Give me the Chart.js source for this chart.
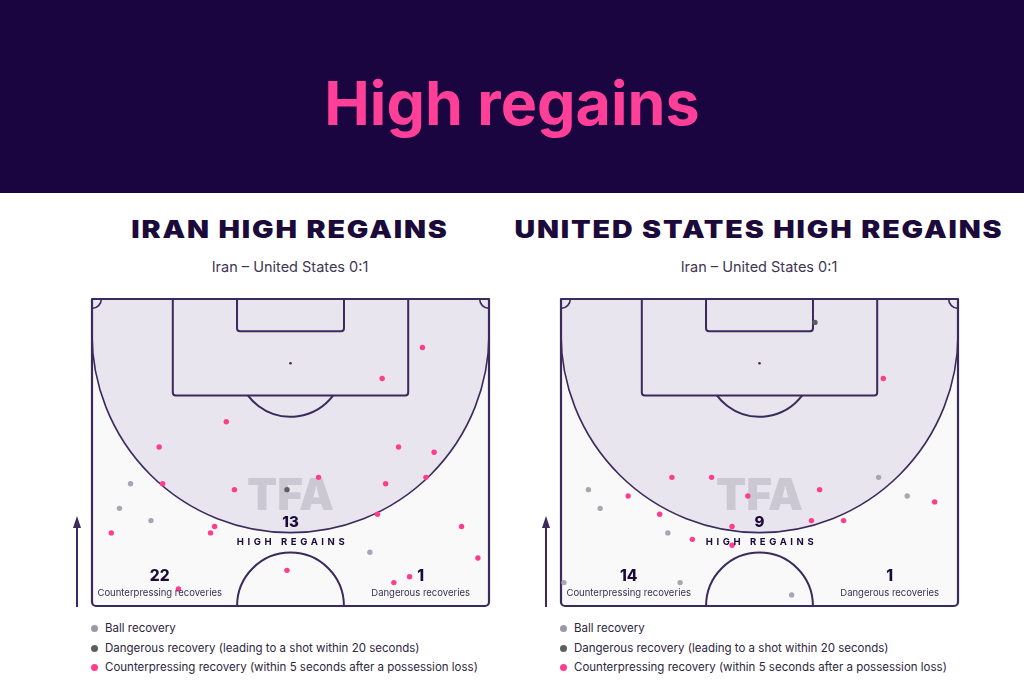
<!DOCTYPE html>
<html>
<head>
<meta charset="utf-8">
<script src="https://cdn.jsdelivr.net/npm/chart.js@4.4.1/dist/chart.umd.min.js"></script>
<style>
  body { margin: 0; width: 1024px; height: 683px; background: #ffffff; position: relative; overflow: hidden; font-family: Inter, "Noto Sans", sans-serif; }
  .header { position: absolute; left: 0; top: 0; width: 1024px; height: 193px; background: #1b0540; }
  .header h1 { margin: 0; position: absolute; left: 0; width: 1024px; top: 66px; text-align: center; color: #ff3f98; font-size: 61px; font-weight: 700; letter-spacing: 0px; }
  .team-title { position: absolute; top: 215px; text-align: center; color: #1b0a3a; font-size: 24px; font-weight: 900; letter-spacing: 1.6px; white-space: nowrap; transform: scaleX(1.19); }
  .match { position: absolute; top: 258px; text-align: center; color: #3e3552; font-size: 14.5px; white-space: nowrap; }
  .wrap { position: absolute; top: 290px; width: 440px; height: 325px; }
  .legend { position: absolute; top: 620px; font-size: 11.5px; color: #2e2640; }
  .legend div { height: 19.5px; line-height: 16px; white-space: nowrap; }
  .legend span { display: inline-block; width: 7px; height: 7px; border-radius: 50%; margin-right: 7px; vertical-align: 0px; }
</style>
</head>
<body>
<div class="header"><h1>High regains</h1></div>

<div class="team-title" style="left:90px;width:400px;">IRAN HIGH REGAINS</div>
<div class="match" style="left:90px;width:400px;">Iran – United States 0:1</div>
<div class="team-title" style="left:509px;width:500px;">UNITED STATES HIGH REGAINS</div>
<div class="match" style="left:559px;width:400px;">Iran – United States 0:1</div>

<div class="wrap" style="left:60px;"><canvas id="iranChart"></canvas></div>
<div class="wrap" style="left:529px;"><canvas id="usaChart"></canvas></div>

<div class="legend" style="left:91px;">
  <div><span style="background:#9c97a8"></span>Ball recovery</div>
  <div><span style="background:#5a5f62"></span>Dangerous recovery (leading to a shot within 20 seconds)</div>
  <div><span style="background:#ff3d8f"></span>Counterpressing recovery (within 5 seconds after a possession loss)</div>
</div>
<div class="legend" style="left:560px;">
  <div><span style="background:#9c97a8"></span>Ball recovery</div>
  <div><span style="background:#5a5f62"></span>Dangerous recovery (leading to a shot within 20 seconds)</div>
  <div><span style="background:#ff3d8f"></span>Counterpressing recovery (within 5 seconds after a possession loss)</div>
</div>

<script>
// Pitch: attacking half, x = 0..68 m across, y = 0 (goal line) .. 52.5 m (halfway line)
const PITCH_W = 68;
const PITCH_L = 52.5;

// --- Iran ---
const iranCounterpress = [
  [56.6, 8.3], [49.7, 13.6], [23.0, 21.0], [11.5, 25.3], [52.5, 25.3], [58.6, 26.2],
  [38.8, 30.5], [12.1, 31.6], [24.4, 32.6], [50.3, 31.6], [57.2, 30.5], [48.9, 36.8],
  [3.3, 40.0], [21.0, 38.9], [20.3, 40.0], [63.3, 38.9], [66.1, 44.3], [33.4, 46.4],
  [54.4, 47.5], [51.7, 48.5], [14.8, 49.6]
];
const iranBall = [[6.6, 31.6], [4.7, 35.8], [10.1, 37.9], [47.6, 43.3]];
const iranDangerous = [[33.4, 32.6]];
const iranCounts = { high: "13", counter: "22", dangerous: "1" };

// --- United States ---
const usaCounterpress = [
  [55.2, 13.6], [19.0, 30.5], [25.8, 30.5], [11.5, 33.7], [32.0, 33.7], [44.3, 32.6],
  [64.0, 34.7], [16.9, 36.8], [29.3, 38.9], [42.9, 37.9], [48.4, 37.9], [22.5, 41.1],
  [29.3, 42.1]
];
const usaBall = [[54.4, 30.5], [4.7, 32.6], [59.3, 33.7], [6.7, 35.8], [18.3, 40.0], [0.5, 48.5], [20.4, 48.5], [39.5, 50.6]];
const usaDangerous = [[43.5, 4.0]];
const usaCounts = { high: "9", counter: "14", dangerous: "1" };

const LINE = '#3b2a5c';
const toPts = arr => arr.map(p => ({ x: p[0], y: p[1] }));

// --- Vẽ sân bóng ---
const pitchPlugin = {
  id: 'pitch',
  beforeDatasetsDraw(chart) {
    const { ctx, chartArea: a, scales } = chart;
    const X = v => scales.x.getPixelForValue(v);
    const Y = v => scales.y.getPixelForValue(v);
    const m = (a.right - a.left) / PITCH_W;

    ctx.save();
    // base
    ctx.fillStyle = '#f9f9fa';
    ctx.fillRect(a.left, a.top, a.right - a.left, a.bottom - a.top);

    // shaded "high" zone
    const zoneCy = 6.0, zoneR = 34;
    ctx.fillStyle = '#e8e5ee';
    ctx.beginPath();
    ctx.moveTo(a.left, a.top);
    ctx.lineTo(a.right, a.top);
    ctx.lineTo(a.right, Y(zoneCy));
    ctx.arc(X(34), Y(zoneCy), zoneR * m, 0, Math.PI, false);
    ctx.closePath();
    ctx.fill();

    ctx.strokeStyle = LINE;
    ctx.lineWidth = 1.6;
    ctx.beginPath();
    ctx.arc(X(34), Y(zoneCy), zoneR * m, 0, Math.PI, false);
    ctx.stroke();

    // watermark
    ctx.fillStyle = 'rgba(180, 176, 190, 0.55)';
    ctx.font = '900 44px Inter';
    ctx.textAlign = 'center';
    ctx.textBaseline = 'middle';
    ctx.fillText('TFA', X(34), Y(33.8));

    ctx.lineWidth = 2;
    ctx.lineJoin = 'round';
    // penalty box (open at goal line)
    ctx.beginPath();
    ctx.roundRect(X(13.84), Y(0), X(54.16) - X(13.84), Y(16.5) - Y(0), [0, 0, 3, 3]);
    ctx.stroke();
    // six-yard box
    ctx.beginPath();
    ctx.roundRect(X(24.84), Y(0), X(43.16) - X(24.84), Y(5.5) - Y(0), [0, 0, 3, 3]);
    ctx.stroke();
    // penalty arc
    const d = Math.acos(5.5 / 9.15);
    ctx.beginPath();
    ctx.arc(X(34), Y(11), 9.15 * m, Math.PI / 2 - d, Math.PI / 2 + d);
    ctx.stroke();
    // penalty spot
    ctx.fillStyle = LINE;
    ctx.beginPath();
    ctx.arc(X(34), Y(11), 1.3, 0, Math.PI * 2);
    ctx.fill();
    // centre circle
    ctx.beginPath();
    ctx.arc(X(34), Y(PITCH_L), 9.15 * m, Math.PI, 2 * Math.PI);
    ctx.stroke();
    // corner arcs
    ctx.lineWidth = 1.6;
    ctx.beginPath();
    ctx.arc(a.left, a.top, 1.6 * m, 0, Math.PI / 2);
    ctx.stroke();
    ctx.beginPath();
    ctx.arc(a.right, a.top, 1.6 * m, Math.PI / 2, Math.PI);
    ctx.stroke();
    // outline
    ctx.lineWidth = 2.2;
    ctx.beginPath();
    ctx.roundRect(a.left, a.top, a.right - a.left, a.bottom - a.top, [0, 0, 4, 4]);
    ctx.stroke();

    // attack arrow
    ctx.lineWidth = 2;
    ctx.beginPath();
    ctx.moveTo(a.left - 15, a.bottom + 1);
    ctx.lineTo(a.left - 15, a.bottom - 84);
    ctx.stroke();
    ctx.beginPath();
    ctx.moveTo(a.left - 15, a.bottom - 90);
    ctx.lineTo(a.left - 19, a.bottom - 78);
    ctx.lineTo(a.left - 11, a.bottom - 78);
    ctx.closePath();
    ctx.fill();
    ctx.restore();
  },
  afterDatasetsDraw(chart, args, opts) {
    const { ctx, scales } = chart;
    const X = v => scales.x.getPixelForValue(v);
    const Y = v => scales.y.getPixelForValue(v);
    const c = opts.counts;
    ctx.save();
    ctx.textAlign = 'center';
    ctx.textBaseline = 'middle';
    ctx.fillStyle = '#1b0a3a';
    ctx.font = '800 15px Inter';
    ctx.fillText(c.high, X(34), Y(38.2));
    ctx.font = '700 9.5px Inter';
    ctx.letterSpacing = '3.6px';
    ctx.fillText('HIGH REGAINS', X(34) + 2, Y(41.6));
    ctx.letterSpacing = '0px';
    ctx.font = '800 15.5px Inter';
    ctx.fillText(c.counter, X(11.6), Y(47.5));
    ctx.fillText(c.dangerous, X(56.3), Y(47.5));
    ctx.font = '400 9.5px Inter';
    ctx.fillStyle = '#3a3050';
    ctx.fillText('Counterpressing recoveries', X(11.6), Y(50.3));
    ctx.fillText('Dangerous recoveries', X(56.3), Y(50.3));
    ctx.restore();
  }
};

function makePitch(id, ball, dangerous, counter, counts) {
  return new Chart(document.getElementById(id), {
    type: 'scatter',
    data: {
      datasets: [
        { label: 'Ball recovery', data: toPts(ball), backgroundColor: '#a9a5b3', pointRadius: 2.7, pointBorderWidth: 0 },
        { label: 'Dangerous recovery', data: toPts(dangerous), backgroundColor: '#5a5f62', pointRadius: 2.7, pointBorderWidth: 0 },
        { label: 'Counterpressing recovery', data: toPts(counter), backgroundColor: '#ff3d8f', pointRadius: 2.7, pointBorderWidth: 0 }
      ]
    },
    options: {
      responsive: false,
      animation: false,
      layout: { padding: { left: 32, top: 9, right: 11, bottom: 9 } },
      plugins: { legend: { display: false }, tooltip: { enabled: false }, pitch: { counts } },
      scales: {
        x: { type: 'linear', min: 0, max: PITCH_W, display: false },
        y: { type: 'linear', min: 0, max: PITCH_L, reverse: true, display: false }
      }
    },
    plugins: [pitchPlugin]
  });
}

document.getElementById('iranChart').width = 440;
document.getElementById('iranChart').height = 325;
document.getElementById('usaChart').width = 440;
document.getElementById('usaChart').height = 325;

makePitch('iranChart', iranBall, iranDangerous, iranCounterpress, iranCounts);
makePitch('usaChart', usaBall, usaDangerous, usaCounterpress, usaCounts);
</script>
</body>
</html>
